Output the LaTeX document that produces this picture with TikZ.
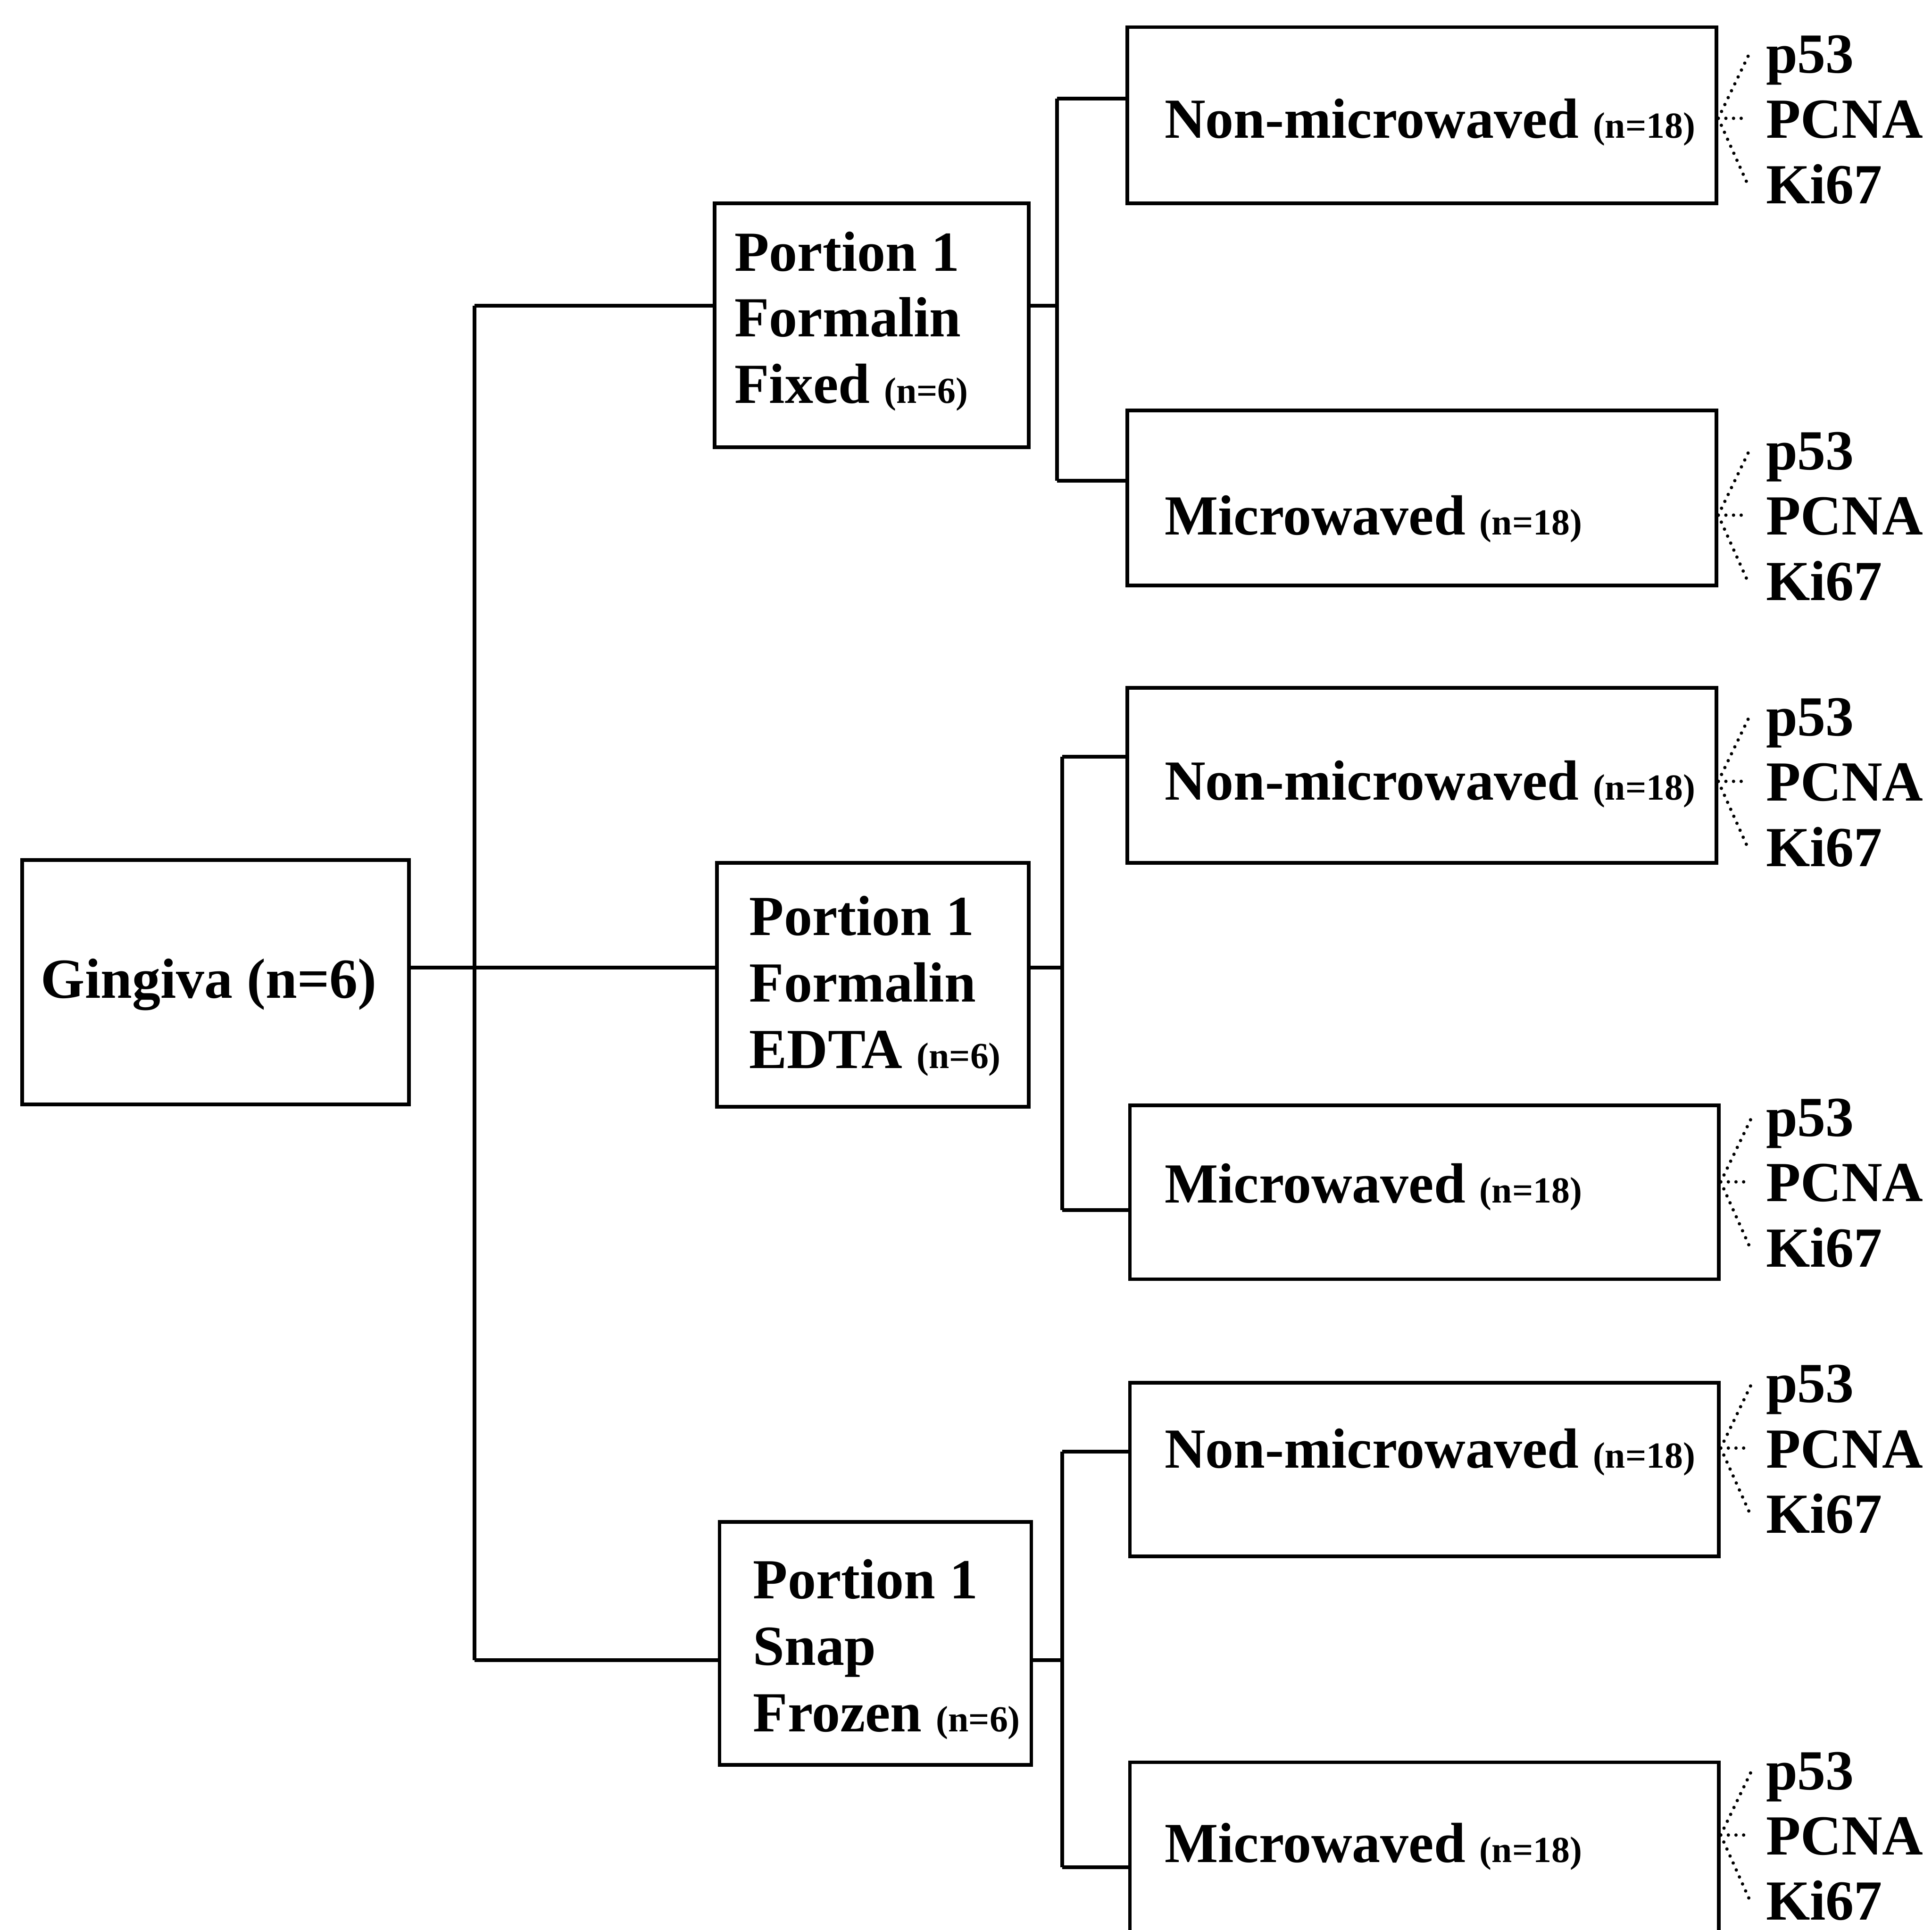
\documentclass[tikz,border=0pt]{standalone}
\usepackage{fontspec}
\setmainfont{Liberation Serif}
\usetikzlibrary{calc}
\newcommand\pxu{0.0283cm}
\newcommand\smn[1]{{\fontsize{24}{24}\selectfont #1}}
\begin{document}
\begin{tikzpicture}[x=0.0283cm,y=-0.0283cm,
  box/.style={draw, line width=2.4pt, rectangle, inner sep=0pt},
  conn/.style={line width=2.4pt},
  dotline/.style={line width=2.2pt, line cap=round, dash pattern=on 0pt off 5pt},
  txt/.style={inner sep=0pt, anchor=base west, font=\bfseries\fontsize{37}{42.6}\selectfont},
]
\useasboundingbox (0,0) rectangle (1568,1566);
\clip (0,0) rectangle (1568,1566);

% boxes
\node[box, minimum width=314*\pxu, minimum height=198*\pxu] (g) at (175,797) {};
\node[box, minimum width=255*\pxu, minimum height=198*\pxu] (p1) at (707.5,264) {};
\node[box, minimum width=253*\pxu, minimum height=198*\pxu] (p2) at (708.5,799) {};
\node[box, minimum width=253*\pxu, minimum height=197*\pxu] (p3) at (710.5,1333.5) {};
\node[box, minimum width=478*\pxu, minimum height=143*\pxu] (nm1) at (1154,93.5) {};
\node[box, minimum width=478*\pxu, minimum height=142*\pxu] (m1) at (1154,404) {};
\node[box, minimum width=478*\pxu, minimum height=142*\pxu] (nm2) at (1154,629) {};
\node[box, minimum width=478*\pxu, minimum height=141*\pxu] (m2) at (1156,967.5) {};
\node[box, minimum width=478*\pxu, minimum height=141*\pxu] (nm3) at (1156,1192.5) {};
\node[box, minimum width=478*\pxu, minimum height=142*\pxu] (m3) at (1156,1501) {};

% texts
\node[txt] (gt) at (33,810) {Gingiva (n=6)};
\node[txt] (p1a) at (596,220) {Portion 1};
\node[txt] (p1b) at (596,273) {Formalin};
\node[txt] (p1c) at (596,327) {Fixed \smn{(n=6)}};
\node[txt] (p2a) at (608,759) {Portion 1};
\node[txt] (p2b) at (608,813) {Formalin};
\node[txt] (p2c) at (608,867) {EDTA \smn{(n=6)}};
\node[txt] (p3a) at (611,1297) {Portion 1};
\node[txt] (p3b) at (611,1351) {Snap};
\node[txt] (p3c) at (611,1405) {Frozen \smn{(n=6)}};
\node[txt] (nm1t) at (945,112) {Non-microwaved \smn{(n=18)}};
\node[txt] (m1t) at (945,434) {Microwaved \smn{(n=18)}};
\node[txt] (nm2t) at (945,649) {Non-microwaved \smn{(n=18)}};
\node[txt] (m2t) at (945,976) {Microwaved \smn{(n=18)}};
\node[txt] (nm3t) at (945,1191) {Non-microwaved \smn{(n=18)}};
\node[txt] (m3t) at (945,1511) {Microwaved \smn{(n=18)}};

% trunk from Gingiva
\coordinate (t1) at (385,248);
\coordinate (t2) at (385,785);
\coordinate (t3) at (385,1347);
\draw[conn] (t1) -- (t3);
\draw[conn] (g.east |- t2) -- (t2) -- (p2.west |- t2);
\draw[conn] (t1) -- (p1.west |- t1);
\draw[conn] (t3) -- (p3.west |- t3);

% Portion 1 fixed
\coordinate (a0) at (858,248);
\coordinate (a1) at (858,80);
\coordinate (a2) at (858,390);
\draw[conn] (p1.east |- a0) -- (a0);
\draw[conn] (a1) -- (a2);
\draw[conn] (a1) -- (nm1.west |- a1);
\draw[conn] (a2) -- (m1.west |- a2);

% Portion 1 EDTA
\coordinate (b0) at (862,785);
\coordinate (b1) at (862,614);
\coordinate (b2) at (862,982);
\draw[conn] (p2.east |- b0) -- (b0);
\draw[conn] (b1) -- (b2);
\draw[conn] (b1) -- (nm2.west |- b1);
\draw[conn] (b2) -- (m2.west |- b2);

% Portion 1 snap frozen
\coordinate (c0) at (862,1347);
\coordinate (c1) at (862,1178);
\coordinate (c2) at (862,1515);
\draw[conn] (p3.east |- c0) -- (c0);
\draw[conn] (c1) -- (c2);
\draw[conn] (c1) -- (nm3.west |- c1);
\draw[conn] (c2) -- (m3.west |- c2);

% markers
\foreach \b/\y in {nm1/96,m1/418,nm2/634,m2/959,nm3/1175,m3/1489}{
  \coordinate (o-\b) at (\b.east |- 0,\y);
  \node[txt] (p53-\b) at (1433,\y-37) {p53};
  \node[txt] (pcna-\b) at (1433,\y+16) {PCNA};
  \node[txt] (ki-\b) at (1433,\y+69) {Ki67};
  \draw[dotline] (o-\b) -- ($(o-\b)+(25,-52)$);
  \draw[dotline] (o-\b) -- ($(o-\b)+(24,0)$);
  \draw[dotline] (o-\b) -- ($(o-\b)+(25,56)$);
}
\end{tikzpicture}
\end{document}
